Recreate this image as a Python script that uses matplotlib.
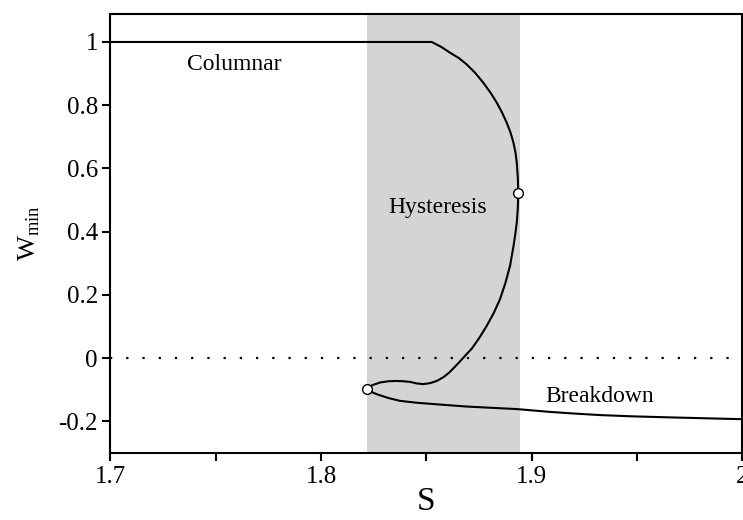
import matplotlib
matplotlib.use("Agg")
import matplotlib.pyplot as plt
from matplotlib.ticker import MultipleLocator

# solution branch: columnar -> hysteresis loop -> breakdown
s_curve = [1.700, 1.8526, 1.8570, 1.8613, 1.8655, 1.8692, 1.8733, 1.8771, 1.8805,
           1.8835, 1.8860, 1.8882, 1.8900, 1.8914, 1.8924, 1.8930, 1.8935, 1.8937,
           1.8935, 1.8930, 1.8923, 1.8915, 1.8898, 1.8876, 1.8850, 1.8820, 1.8787,
           1.8752, 1.8716, 1.8685, 1.8655, 1.8632, 1.8610, 1.8582, 1.8550, 1.8518,
           1.8486, 1.8455, 1.8423, 1.8390, 1.8360, 1.8320, 1.8280, 1.8245, 1.8217,
           1.8240, 1.8265, 1.8320, 1.8375, 1.8455, 1.8533, 1.8610, 1.8692, 1.8810,
           1.8930, 1.9088, 1.9200, 1.9325, 1.9480, 1.9642, 1.9820, 2.000]
w_curve = [1.000, 1.000, 0.985, 0.966, 0.949, 0.929, 0.902, 0.871, 0.840,
           0.808, 0.777, 0.745, 0.714, 0.682, 0.650, 0.618, 0.570, 0.521,
           0.475, 0.429, 0.393, 0.357, 0.292, 0.238, 0.186, 0.142, 0.102,
           0.064, 0.030, 0.008, -0.014, -0.030, -0.045, -0.060, -0.072, -0.079,
           -0.082, -0.080, -0.075, -0.073, -0.072, -0.073, -0.077, -0.085, -0.097,
           -0.107, -0.114, -0.126, -0.135, -0.141, -0.145, -0.149, -0.153, -0.157,
           -0.161, -0.170, -0.175, -0.180, -0.184, -0.187, -0.190, -0.193]

# turning points (open circles)
s_turn = [1.8217, 1.8937]
w_turn = [-0.097, 0.521]

hyst_lo, hyst_hi = 1.8217, 1.8945

x_ticks = [1.7, 1.8, 1.9, 2.0]
x_labels = ["1.7", "1.8", "1.9", "2"]
y_ticks = [-0.2, 0, 0.2, 0.4, 0.6, 0.8, 1.0]
y_labels = ["-0.2", "0", "0.2", "0.4", "0.6", "0.8", "1"]

plt.rcParams['font.family'] = ['Liberation Serif', 'DejaVu Serif']
plt.rcParams['mathtext.fontset'] = 'custom'
plt.rcParams['mathtext.rm'] = 'Liberation Serif'

fig = plt.figure(figsize=(7.43, 5.2), dpi=100)
ax = fig.add_axes([0.1487, 0.1288, 0.85, 0.8452])

ax.axvspan(hyst_lo, hyst_hi, color='#d4d4d4', lw=0, zorder=0)
ax.axhline(0, color='k', lw=1.6, linestyle=(0, (1, 6.3)), zorder=1)
ax.plot(s_curve, w_curve, '-', color='k', lw=1.5, zorder=2)
ax.plot(s_turn, w_turn, 'o', ms=7, mfc='white', mec='k', mew=1, zorder=3)

ax.text(1.7588, 0.930, "Columnar", fontsize=17, ha='center', va='center')
ax.text(1.8556, 0.475, "Hysteresis", fontsize=17, ha='center', va='center')
ax.text(1.9322, -0.121, "Breakdown", fontsize=17, ha='center', va='center')

ax.set_xlim(1.7, 2.0)
ax.set_ylim(-0.3, 1.09)
ax.set_xticks(x_ticks)
ax.set_xticklabels(x_labels)
ax.xaxis.set_minor_locator(MultipleLocator(0.05))
ax.set_yticks(y_ticks)
ax.set_yticklabels(y_labels)

ax.tick_params(axis='both', which='both', direction='out', length=6, width=1.5,
               labelsize=18, pad=3)
for sp in ax.spines.values():
    sp.set_linewidth(1.5)

ax.set_xlabel("S", fontsize=24)
ax.xaxis.set_label_coords(0.5, -0.076)
ax.set_ylabel(r"W$_{\mathrm{min}}$", fontsize=19)
ax.yaxis.set_label_coords(-0.108, 0.5)

fig.savefig("out.png", dpi=100)
